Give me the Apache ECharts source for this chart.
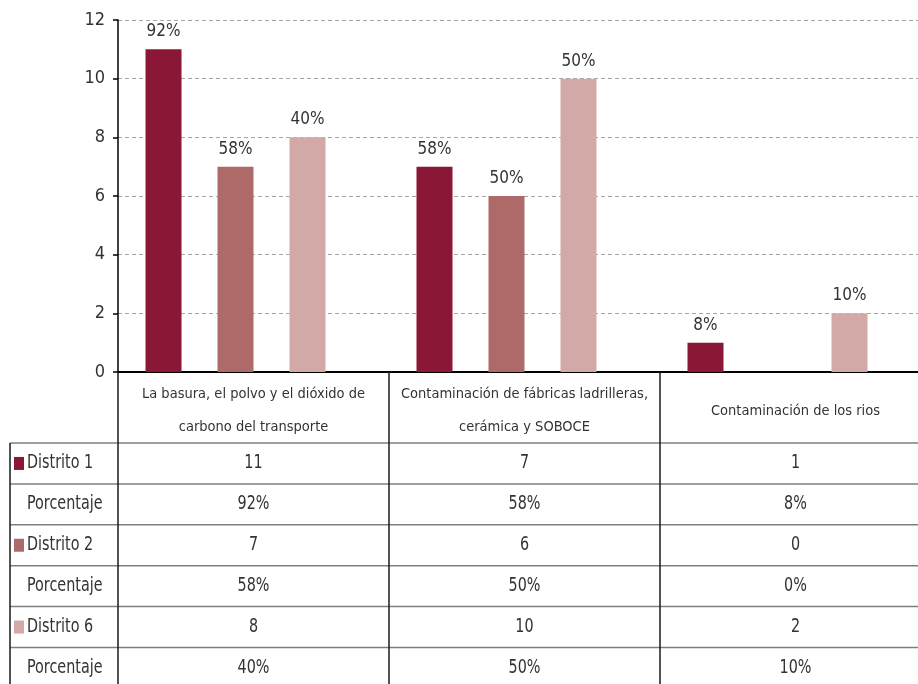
<!DOCTYPE html>
<html>
<head>
<meta charset="utf-8">
<script src="https://cdn.jsdelivr.net/npm/echarts@6/dist/echarts.min.js"></script>
<style>
  html, body { margin: 0; padding: 0; background: #fff; }
  #chart { width: 918px; height: 684px; }
</style>
</head>
<body>
<div id="chart"></div>
<script>
// Categories (line breaks as shown in the table header)
const categories = [
  'La basura, el polvo y el dióxido de\ncarbono del transporte',
  'Contaminación de fábricas ladrilleras,\ncerámica y SOBOCE',
  'Contaminación de los rios'
];

// Values per district
const distrito1 = [11, 7, 1];
const distrito2 = [7, 6, 0];
const distrito6 = [8, 10, 2];

// Percentage rows
const pct1 = ['92%', '58%', '8%'];
const pct2 = ['58%', '50%', '0%'];
const pct6 = ['40%', '50%', '10%'];

const yTicks = { min: 0, max: 12, interval: 2 };

const names = ['Distrito 1', 'Distrito 2', 'Distrito 6'];
const colors = ['#8a1736', '#ad6a69', '#d3a9a8'];

const FONT = '"Liberation Sans Narrow", "DejaVu Sans Condensed", "Noto Sans", sans-serif';
const TEXT = '#333333';
const NARROW = 0.84;

const chart = echarts.init(document.getElementById('chart'), null, { renderer: 'canvas' });

function barSeries(name, values, pcts, color) {
  return {
    name: name,
    type: 'bar',
    barWidth: 36,
    barGap: '0%',
    data: values,
    itemStyle: { color: color },
    label: {
      show: true,
      position: 'top',
      distance: 9,
      fontFamily: FONT,
      fontSize: 17,
      color: TEXT,
      formatter: p => (p.value > 0 ? pcts[p.dataIndex] : '')
    },
    z: 3
  };
}

// The "Porcentaje" rows take a slot in each group but have no visible bars
function emptySlot(name) {
  return { name: name, type: 'bar', barWidth: 36, barGap: '0%', data: [null, null, null], silent: true };
}

chart.setOption({
  animation: false,
  grid: { left: 118, top: 20, right: -13, height: 352, outerBoundsMode: 'none', containLabel: false },
  xAxis: {
    type: 'category',
    data: categories,
    axisLine: { show: true, lineStyle: { color: '#000', width: 2 } },
    axisTick: { show: false },
    axisLabel: {
      interval: 0,
      margin: 39,
      verticalAlign: 'middle',
      lineHeight: 33,
      fontFamily: FONT,
      fontSize: 14.5,
      color: TEXT
    }
  },
  yAxis: {
    type: 'value',
    min: yTicks.min,
    max: yTicks.max,
    interval: yTicks.interval,
    axisLine: { show: true, lineStyle: { color: '#000', width: 1.5 } },
    axisTick: { show: true, length: 5, lineStyle: { color: '#000', width: 1.5 } },
    axisLabel: { margin: 13, fontFamily: FONT, fontSize: 18, color: TEXT },
    splitLine: { show: true, lineStyle: { color: '#a6a6a6', type: [4, 3], width: 1 } }
  },
  series: [
    barSeries(names[0], distrito1, pct1, colors[0]),
    emptySlot('Porcentaje 1'),
    barSeries(names[1], distrito2, pct2, colors[1]),
    emptySlot('Porcentaje 2'),
    barSeries(names[2], distrito6, pct6, colors[2]),
    emptySlot('Porcentaje 6')
  ]
});

// Data table below the axis, laid out from the category axis positions
function drawTable() {
  const c0 = chart.convertToPixel({ xAxisIndex: 0 }, 0);
  const c1 = chart.convertToPixel({ xAxisIndex: 0 }, 1);
  const band = c1 - c0;
  const axisY = chart.convertToPixel({ yAxisIndex: 0 }, 0);
  const edges = categories.map((_, i) => c0 - band / 2 + i * band);
  edges.push(edges[edges.length - 1] + band);

  const headerBottom = axisY + 71;
  const rowH = 40.9;
  const tableLeft = 10;
  const rows = [
    { label: names[0], key: colors[0], vals: distrito1.map(String) },
    { label: 'Porcentaje', vals: pct1 },
    { label: names[1], key: colors[1], vals: distrito2.map(String) },
    { label: 'Porcentaje', vals: pct2 },
    { label: names[2], key: colors[2], vals: distrito6.map(String) },
    { label: 'Porcentaje', vals: pct6 }
  ];
  const bottom = headerBottom + rows.length * rowH;
  const right = edges[edges.length - 1];

  const els = [];
  const hLine = { stroke: '#7f7f7f', lineWidth: 1.5 };
  const vLine = { stroke: '#1a1a1a', lineWidth: 1.5 };

  // horizontal rules
  for (let r = 0; r <= rows.length; r++) {
    const y = headerBottom + r * rowH;
    els.push({ type: 'line', shape: { x1: tableLeft, y1: y, x2: right, y2: y }, style: hLine, z: 10 });
  }
  // vertical rules
  edges.forEach(x => {
    els.push({ type: 'line', shape: { x1: x, y1: axisY, x2: x, y2: bottom }, style: vLine, z: 10 });
  });
  els.push({ type: 'line', shape: { x1: tableLeft, y1: headerBottom, x2: tableLeft, y2: bottom }, style: vLine, z: 10 });

  const cellText = (txt, x, y, align) => ({
    type: 'text', x: x, y: y, scaleX: NARROW,
    style: { text: txt, fontFamily: FONT, fontSize: 19, fill: TEXT, align: align, verticalAlign: 'middle' },
    z: 11
  });

  rows.forEach((row, r) => {
    const yMid = headerBottom + r * rowH + rowH / 2;
    if (row.key) {
      els.push({ type: 'rect', shape: { x: 14, y: yMid - 6.5, width: 10, height: 13 }, style: { fill: row.key }, z: 11 });
    }
    els.push(cellText(row.label, 27, yMid, 'left'));
    row.vals.forEach((v, i) => {
      els.push(cellText(v, (edges[i] + edges[i + 1]) / 2, yMid, 'center'));
    });
  });

  chart.setOption({ graphic: { elements: els } });
}

drawTable();
</script>
</body>
</html>
